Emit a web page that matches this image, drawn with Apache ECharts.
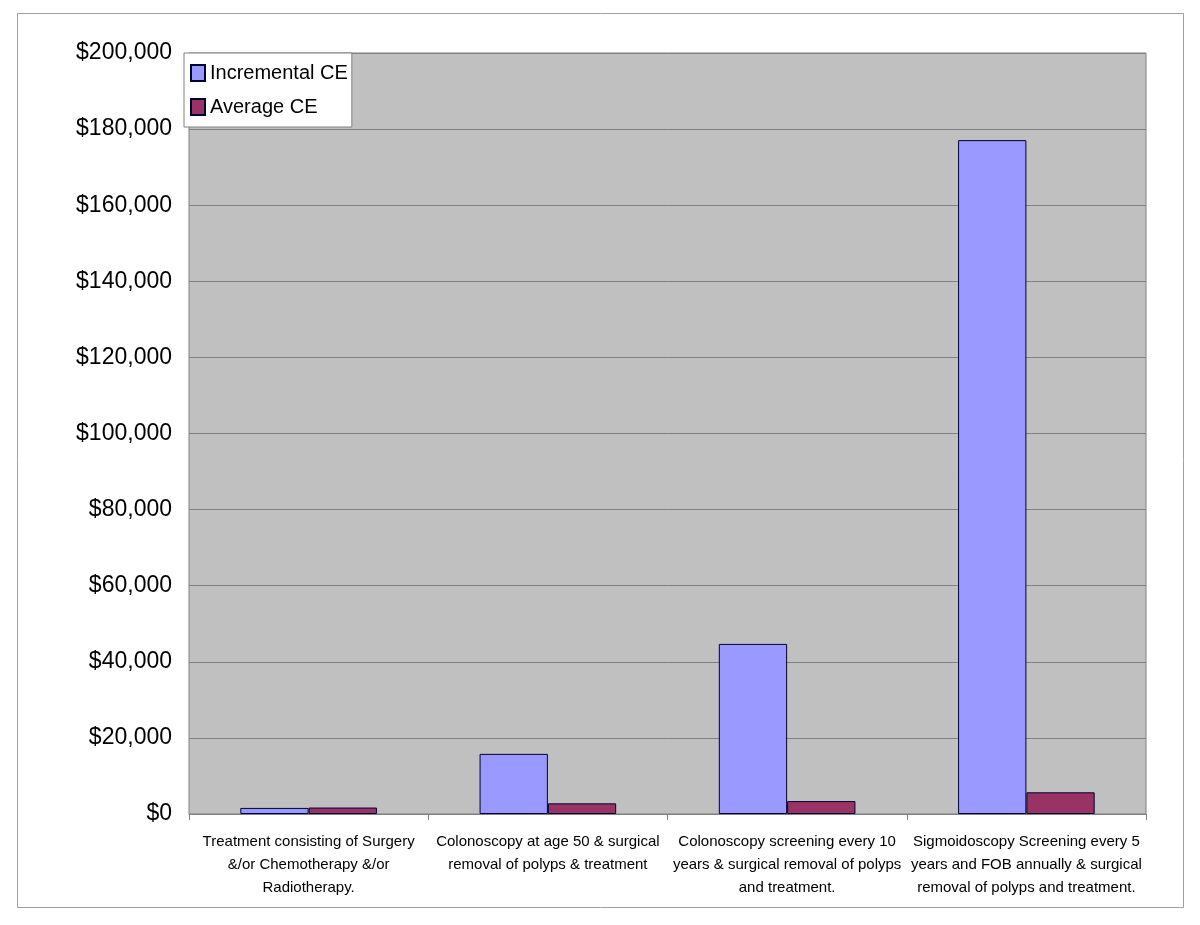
<!DOCTYPE html>
<html>
<head>
<meta charset="utf-8">
<script src="https://cdn.jsdelivr.net/npm/echarts@6/dist/echarts.min.js"></script>
<style>html,body{margin:0;padding:0;background:#fff;}#c{width:1200px;height:925px;}</style>
</head>
<body>
<div id="c"></div>
<script>
var categories = [
  'Treatment consisting of Surgery\n&/or Chemotherapy &/or\nRadiotherapy.',
  'Colonoscopy at age 50 & surgical\nremoval of polyps & treatment',
  'Colonoscopy screening every 10\nyears & surgical removal of polyps\nand treatment.',
  'Sigmoidoscopy Screening every 5\nyears and FOB annually & surgical\nremoval of polyps and treatment.'
];
var incrementalCE = [1600, 15800, 44700, 177100];
var averageCE = [1700, 2800, 3400, 5700];
var seriesNames = ['Incremental CE', 'Average CE'];

var FONT = '"Liberation Sans Narrow", "Liberation Sans", Arial, sans-serif';
var chart = echarts.init(document.getElementById('c'), null, {renderer: 'canvas'});
chart.setOption({
  animation: false,
  backgroundColor: '#ffffff',
  graphic: [{
    type: 'rect', left: 17, top: 13, z: -10,
    shape: {width: 1166, height: 894},
    style: {fill: '#ffffff', stroke: '#a0a0a0', lineWidth: 1}
  }],
  grid: {left: 189, right: 54, top: 53, bottom: 111, show: true, backgroundColor: '#c0c0c0', borderColor: '#808080', borderWidth: 1},
  legend: {
    orient: 'vertical', left: 184, top: 53,
    backgroundColor: '#ffffff', borderColor: '#808080', borderWidth: 1,
    padding: [10, 4, 10, 6], itemGap: 14,
    itemWidth: 14, itemHeight: 16, icon: 'rect',
    textStyle: {fontFamily: FONT, fontSize: 20, color: '#000'},
    data: seriesNames
  },
  xAxis: {
    type: 'category', data: categories,
    axisLine: {show: true, lineStyle: {color: '#808080', width: 1}},
    axisTick: {show: true, length: 6, lineStyle: {color: '#808080'}},
    axisLabel: {fontFamily: FONT, fontSize: 15, color: '#000', lineHeight: 23, margin: 16, interval: 0},
    splitLine: {show: false}
  },
  yAxis: {
    type: 'value', min: 0, max: 200000, interval: 20000,
    axisLine: {show: false}, axisTick: {show: false},
    axisLabel: {fontFamily: FONT, fontSize: 23, color: '#000', margin: 17,
      formatter: function (v) { return '$' + v.toLocaleString('en-US'); }},
    splitLine: {show: true, lineStyle: {color: '#808080', width: 1}}
  },
  series: [
    {name: seriesNames[0], type: 'bar', data: incrementalCE, barGap: '0%', barCategoryGap: '42.9%',
     itemStyle: {color: '#9999ff', borderColor: '#000033', borderWidth: 1}},
    {name: seriesNames[1], type: 'bar', data: averageCE, barGap: '0%', barCategoryGap: '42.9%',
     itemStyle: {color: '#993366', borderColor: '#000033', borderWidth: 1}}
  ]
});
</script>
</body>
</html>
